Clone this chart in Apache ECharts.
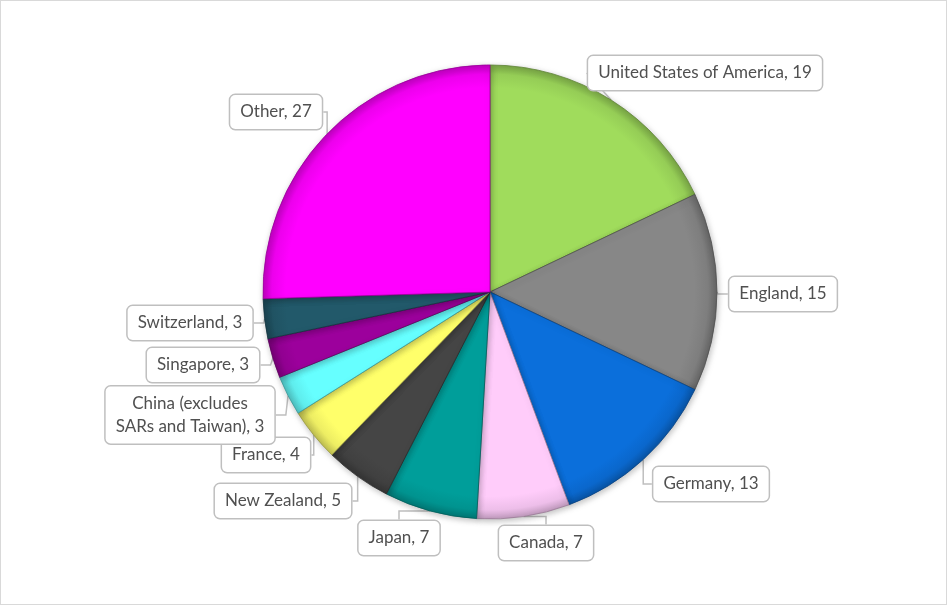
<!DOCTYPE html>
<html>
<head>
<meta charset="utf-8">
<script src="https://cdn.jsdelivr.net/npm/echarts@6/dist/echarts.min.js"></script>
<style>
  html, body { margin: 0; padding: 0; background: #fff; }
  #chart { width: 945px; height: 603px; border: 1px solid #d9d9d9; }
</style>
</head>
<body>
<div id="chart"></div>
<script>
// data
const countries = ['United States of America', 'England', 'Germany', 'Canada', 'Japan',
  'New Zealand', 'France', 'China (excludes\nSARs and Taiwan)', 'Singapore', 'Switzerland', 'Other'];
const counts = [19, 15, 13, 7, 7, 5, 4, 3, 3, 3, 27];
const colors = ['#a0dc5c', '#878787', '#0b6fdb', '#ffccfa', '#009e9a', '#454545',
  '#ffff6a', '#66ffff', '#9c009c', '#22596a', '#ff00ff'];

// where each callout box sits (centre, px)
const labelSpots = [[704, 72], [782, 293], [710, 483], [545, 542], [398, 537],
  [282, 500], [265, 454], [189, 414], [202, 364], [189, 322], [275, 111]];

const CX = 489, CY = 291, R = 227;

function shade(hex, f) {
  const n = parseInt(hex.slice(1), 16);
  const ch = [(n >> 16) & 255, (n >> 8) & 255, n & 255].map(v => Math.round(v * f));
  return 'rgb(' + ch.join(',') + ')';
}

// bevelled rim, centred on the pie
function rim(c) {
  return new echarts.graphic.RadialGradient(CX, CY, R, [
    { offset: 0, color: c },
    { offset: 0.9, color: c },
    { offset: 0.96, color: shade(c, 0.93) },
    { offset: 1, color: shade(c, 0.75) }
  ], true);
}

const chart = echarts.init(document.getElementById('chart'));
chart.setOption({
  animation: false,
  series: [{
    type: 'pie',
    center: [CX, CY],
    radius: R,
    startAngle: 90,
    clockwise: true,
    data: countries.map((c, i) => ({
      name: c,
      value: counts[i],
      itemStyle: { color: rim(colors[i]), borderColor: shade(colors[i], 0.6), borderWidth: 0.8 }
    })),
    itemStyle: {
      shadowColor: 'rgba(0,0,0,0.25)', shadowBlur: 6, shadowOffsetX: 1, shadowOffsetY: 2
    },
    label: {
      show: true,
      formatter: p => p.name + ', ' + p.value,
      fontFamily: 'Lato',
      fontSize: 17,
      color: '#505050',
      lineHeight: 23,
      align: 'center',
      backgroundColor: '#fff',
      borderColor: '#bfbfbf',
      borderWidth: 1.5,
      borderRadius: 5,
      padding: [6, 10, 5, 10]
    },
    labelLine: {
      show: true,
      length: 10,
      length2: 10,
      lineStyle: { color: '#bfbfbf', width: 1.5 }
    },
    labelLayout: p => {
      const s = labelSpots[p.dataIndex];
      return {
        x: s[0], y: s[1],
        align: 'center', verticalAlign: 'middle'
      };
    }
  }]
});
</script>
</body>
</html>
